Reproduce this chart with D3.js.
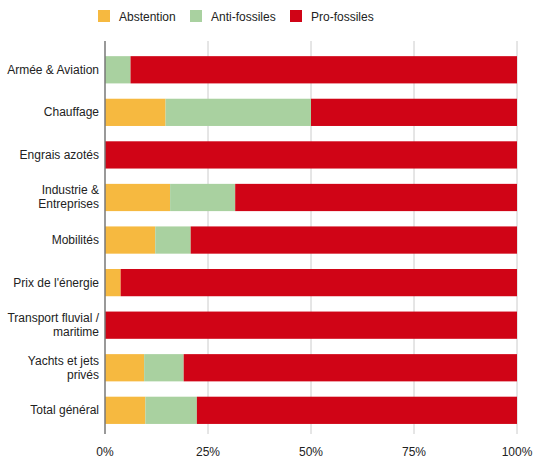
<!DOCTYPE html>
<html>
<head>
<meta charset="utf-8">
<script src="https://cdn.jsdelivr.net/npm/d3@7"></script>
<style>
  body { margin: 0; background: #fff; }
  text { font-family: Arial, "Liberation Sans", sans-serif; fill: #222; }
</style>
</head>
<body>
<svg id="chart"></svg>
<script>
// categories, one label line per array entry
var categories = [
  ["Armée & Aviation"],
  ["Chauffage"],
  ["Engrais azotés"],
  ["Industrie &", "Entreprises"],
  ["Mobilités"],
  ["Prix de l'énergie"],
  ["Transport fluvial /", "maritime"],
  ["Yachts et jets", "privés"],
  ["Total général"]
];
var seriesNames = ["Abstention", "Anti-fossiles", "Pro-fossiles"];
var abstention   = [0,    14.7, 0,   15.8, 12.2, 3.8,  0,   9.5,  9.8];
var antiFossiles = [6.2,  35.3, 0,   15.8, 8.6,  0,    0,   9.6,  12.5];
var proFossiles  = [93.8, 50.0, 100, 68.4, 79.2, 96.2, 100, 80.9, 77.7];
var tickValues = [0, 0.25, 0.5, 0.75, 1];
var colors = ["#f6b940", "#a9d1a0", "#d00416"];

var width = 533, height = 471;
var svg = d3.select('#chart').attr('width', width).attr('height', height);

var left = 105, right = 517;
var gridTop = 41, gridBottom = 434;

// build rows for the stack
var rows = categories.map(function(c, i) {
  return { key: i, "Abstention": abstention[i], "Anti-fossiles": antiFossiles[i], "Pro-fossiles": proFossiles[i] };
});
var stack = d3.stack().keys(seriesNames).offset(d3.stackOffsetExpand);
var layers = stack(rows);

var x = d3.scaleLinear().domain([0, 1]).range([left, right]);
var y = d3.scaleBand()
  .domain(d3.range(categories.length))
  .range([48.5, 431.6])
  .paddingInner(0.36)
  .paddingOuter(0.18);

// gridlines
svg.append('g').selectAll('line')
  .data(tickValues.slice(1))
  .enter().append('line')
  .attr('x1', d => x(d)).attr('x2', d => x(d))
  .attr('y1', gridTop).attr('y2', gridBottom)
  .attr('stroke', '#cccccc').attr('stroke-width', 1);

// bars
var g = svg.append('g');
g.selectAll('g.layer')
  .data(layers)
  .enter().append('g')
  .attr('class', 'layer')
  .attr('fill', (d, i) => colors[i])
  .selectAll('rect')
  .data(d => d)
  .enter().append('rect')
  .attr('x', d => x(d[0]))
  .attr('width', d => Math.max(0, x(d[1]) - x(d[0])))
  .attr('y', (d, i) => y(i))
  .attr('height', y.bandwidth());

// zero axis
svg.append('line')
  .attr('x1', x(0)).attr('x2', x(0))
  .attr('y1', gridTop).attr('y2', gridBottom)
  .attr('stroke', '#777').attr('stroke-width', 1.5);

// category labels
var labels = svg.append('g').selectAll('text')
  .data(categories)
  .enter().append('text')
  .attr('text-anchor', 'end')
  .attr('font-size', 12)
  .attr('x', left - 6)
  .attr('y', (d, i) => y(i) + y.bandwidth() / 2);
labels.selectAll('tspan')
  .data(d => d.map((t, j) => ({ t: t, j: j, n: d.length })))
  .enter().append('tspan')
  .attr('x', left - 6)
  .attr('dy', d => d.j === 0 ? ((d.n - 1) * -7 + 4) + 'px' : '14px')
  .text(d => d.t);

// x tick labels
svg.append('g').selectAll('text')
  .data(tickValues)
  .enter().append('text')
  .attr('x', d => x(d))
  .attr('y', 456)
  .attr('text-anchor', 'middle')
  .attr('font-size', 12)
  .text(d => d3.format('.0%')(d));

// legend
var legendX = [98, 190, 290];
var legend = svg.append('g').selectAll('g')
  .data(seriesNames)
  .enter().append('g')
  .attr('transform', (d, i) => 'translate(' + legendX[i] + ',10)');
legend.append('rect')
  .attr('width', 12).attr('height', 12)
  .attr('fill', (d, i) => colors[i]);
legend.append('text')
  .attr('x', 21).attr('y', 10.5)
  .attr('font-size', 12)
  .text(d => d);
</script>
</body>
</html>
